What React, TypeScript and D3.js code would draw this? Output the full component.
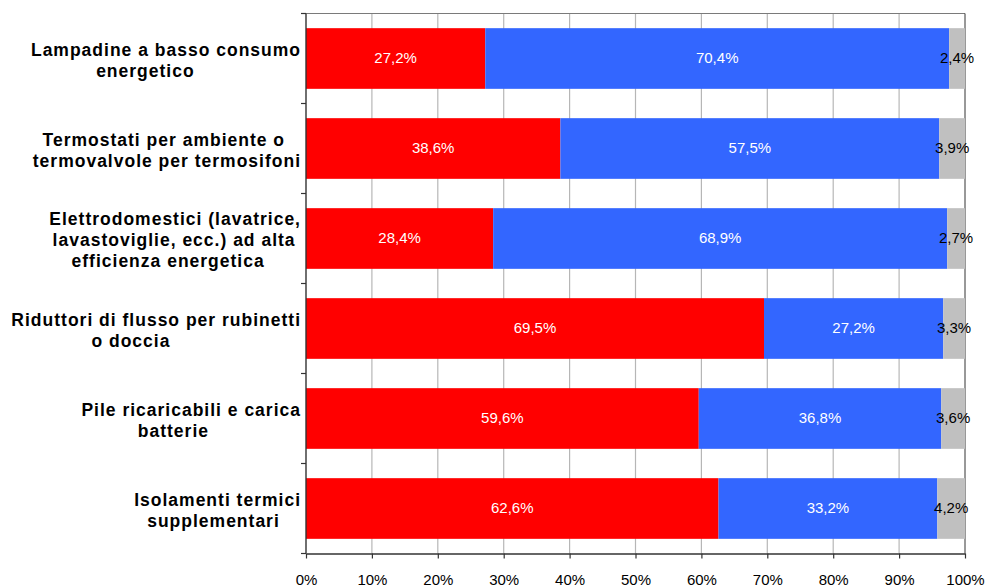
import React, { useEffect, useRef } from "react";
import * as d3 from "d3";

const categoryLines: string[][] = [
  ["Lampadine a basso consumo", "energetico"],
  ["Termostati per ambiente o", "termovalvole per termosifoni"],
  ["Elettrodomestici (lavatrice,", "lavastoviglie, ecc.) ad alta", "efficienza energetica"],
  ["Riduttori di flusso per rubinetti", "o doccia"],
  ["Pile ricaricabili e carica", "batterie"],
  ["Isolamenti termici", "supplementari"],
];
const redValues = [27.2, 38.6, 28.4, 69.5, 59.6, 62.6];
const blueValues = [70.4, 57.5, 68.9, 27.2, 36.8, 33.2];
const greyValues = [2.4, 3.9, 2.7, 3.3, 3.6, 4.2];
const xTicks = [0, 10, 20, 30, 40, 50, 60, 70, 80, 90, 100];

const seriesKeys = ["red", "blue", "grey"];
const seriesColors: Record<string, string> = { red: "#FF0000", blue: "#3366FF", grey: "#C0C0C0" };
const labelColors: Record<string, string> = { red: "#FFFFFF", blue: "#FFFFFF", grey: "#000000" };

const W = 985;
const H = 588;
const M = { left: 306, right: 20, top: 13.5, bottom: 34.5 };
const FONT = "'Liberation Sans', Arial, Helvetica, sans-serif";

const fmt = (v: number) => v.toFixed(1).replace(".", ",") + "%";

export default function App() {
  const ref = useRef<SVGSVGElement | null>(null);

  useEffect(() => {
    const svg = d3.select(ref.current);
    svg.selectAll("*").remove();

    const ids = categoryLines.map((_, i) => String(i));
    const rows = ids.map((id, i) => ({
      id,
      red: redValues[i],
      blue: blueValues[i],
      grey: greyValues[i],
    }));

    const x = d3.scaleLinear().domain([0, 100]).range([M.left, W - M.right]);
    const y = d3
      .scaleBand<string>()
      .domain(ids)
      .range([M.top, H - M.bottom])
      .paddingInner(0.326)
      .paddingOuter(0.163);

    const [y0, y1] = y.range();

    // gridlines
    svg
      .append("g")
      .selectAll("line")
      .data(xTicks.filter((t) => t > 0 && t < 100))
      .join("line")
      .attr("x1", (d) => x(d))
      .attr("x2", (d) => x(d))
      .attr("y1", y0)
      .attr("y2", y1)
      .attr("stroke", "#6f6f6f")
      .attr("stroke-width", 1.2)
      .attr("stroke-dasharray", "1,1");

    // top border
    svg
      .append("line")
      .attr("x1", x(0))
      .attr("x2", x(100))
      .attr("y1", y0)
      .attr("y2", y0)
      .attr("stroke", "#7a7a7a");

    // right border
    svg
      .append("line")
      .attr("x1", x(100))
      .attr("x2", x(100))
      .attr("y1", y0)
      .attr("y2", y1)
      .attr("stroke", "#333");

    // stacked bars
    const stack = d3.stack<any>().keys(seriesKeys)(rows);
    const gBars = svg.append("g");
    stack.forEach((layer) => {
      const key = layer.key;
      gBars
        .append("g")
        .selectAll("rect")
        .data(layer)
        .join("rect")
        .attr("x", (d: any) => x(d[0]))
        .attr("width", (d: any) => x(d[1]) - x(d[0]))
        .attr("y", (d: any) => y(d.data.id)!)
        .attr("height", y.bandwidth())
        .attr("fill", seriesColors[key]);
    });

    // segment labels
    const gLabels = svg.append("g").attr("font-family", FONT).attr("font-size", 15);
    stack.forEach((layer) => {
      const key = layer.key;
      gLabels
        .append("g")
        .selectAll("text")
        .data(layer)
        .join("text")
        .attr("x", (d: any) => (x(d[0]) + x(d[1])) / 2)
        .attr("y", (d: any) => y(d.data.id)! + y.bandwidth() / 2 + 4.5)
        .attr("text-anchor", "middle")
        .attr("fill", labelColors[key])
        .text((d: any) => fmt(d.data[key]));
    });

    // left axis line + ticks at band boundaries
    const boundaries = d3.range(ids.length + 1).map((i) => y0 + i * y.step());
    const gLeft = svg.append("g");
    gLeft
      .append("line")
      .attr("x1", x(0))
      .attr("x2", x(0))
      .attr("y1", y0)
      .attr("y2", y1)
      .attr("stroke", "#333")
      .attr("stroke-width", 1.4);
    gLeft
      .selectAll("line.tick")
      .data(boundaries)
      .join("line")
      .attr("class", "tick")
      .attr("x1", x(0) - 5)
      .attr("x2", x(0))
      .attr("y1", (d) => d)
      .attr("y2", (d) => d)
      .attr("stroke", "#333")
      .attr("stroke-width", 1.2);

    // bottom axis
    const axis = d3
      .axisBottom(x)
      .tickValues(xTicks)
      .tickFormat((d) => d + "%")
      .tickSize(5)
      .tickSizeOuter(0)
      .tickPadding(16);
    const gBottom = svg
      .append("g")
      .attr("transform", `translate(0,${y1})`)
      .call(axis);
    gBottom.select(".domain").attr("stroke", "#333").attr("stroke-width", 1.4);
    gBottom.selectAll(".tick line").attr("stroke", "#333").attr("stroke-width", 1.2);
    gBottom
      .selectAll(".tick text")
      .attr("font-family", FONT)
      .attr("font-size", 15)
      .attr("fill", "#000");

    // category labels
    const labelRight = 301;
    const lineH = 21;
    const gCat = svg
      .append("g")
      .attr("font-family", FONT)
      .attr("font-size", 17.5)
      .attr("font-weight", "bold")
      .attr("letter-spacing", "1px")
      .attr("fill", "#000");
    categoryLines.forEach((lines, i) => {
      const cy = y(ids[i])! + y.bandwidth() / 2;
      const firstBase = cy + 1.5 - ((lines.length - 1) * lineH) / 2 + 6.3;
      const nodes = lines.map((ln, j) =>
        gCat
          .append("text")
          .attr("y", firstBase + j * lineH)
          .text(ln)
      );
      const widths = nodes.map((n) => (n.node() as SVGTextElement).getComputedTextLength());
      const wMax = Math.max(...widths);
      const cMax = labelRight - wMax / 2;
      nodes.forEach((n, j) => {
        const c = cMax - 0.12 * (wMax - widths[j]);
        n.attr("x", c - widths[j] / 2);
      });
    });
  }, []);

  return (
    <svg
      ref={ref}
      width={W}
      height={H}
      style={{ position: "absolute", left: 0, top: 0, background: "#fff" }}
    />
  );
}
